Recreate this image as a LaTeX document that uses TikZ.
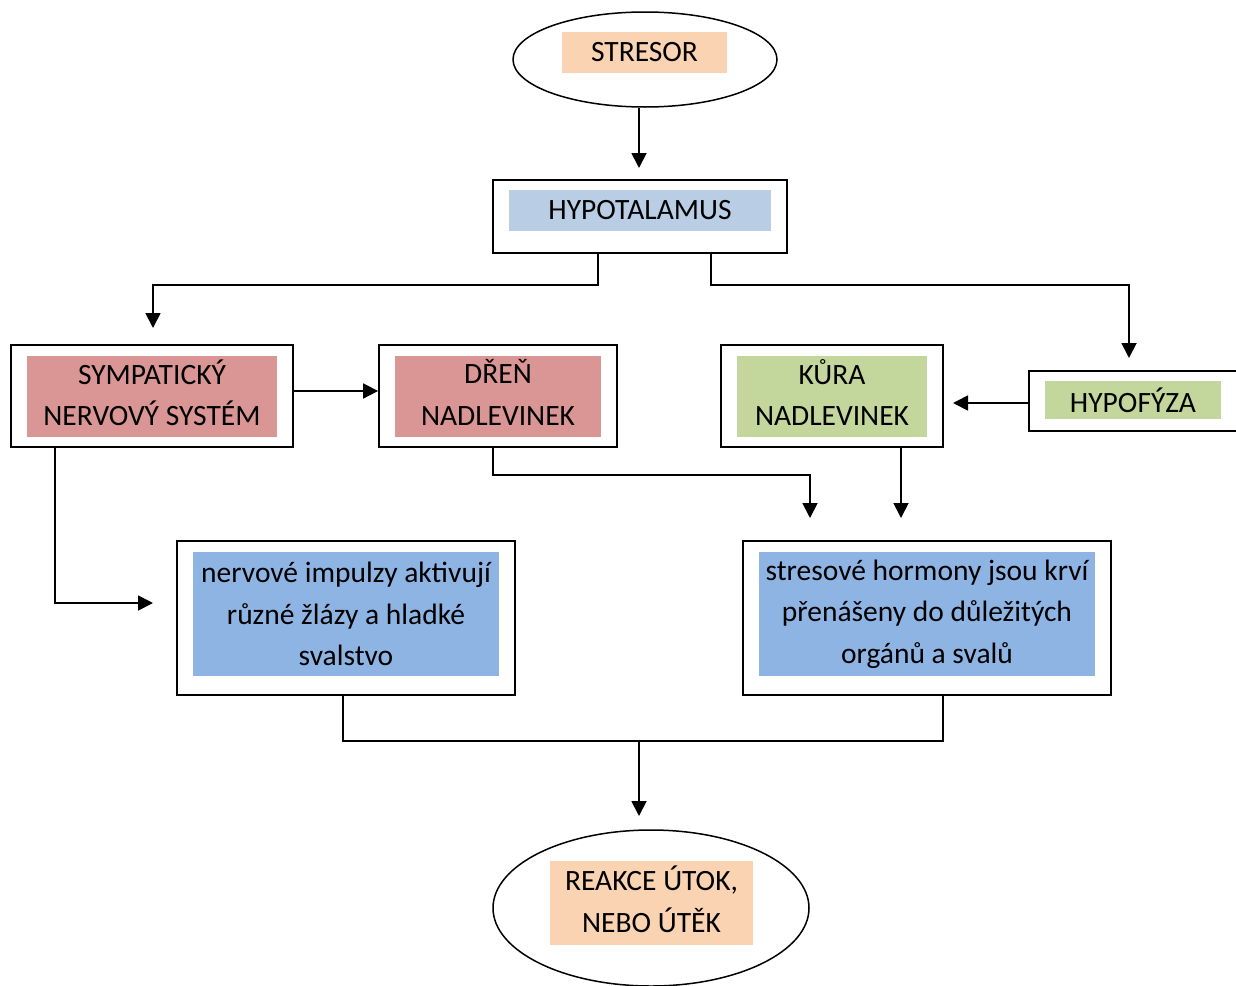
\documentclass[tikz,border=0pt]{standalone}
\usepackage{fontspec}
\setmainfont{Carlito}
\usetikzlibrary{arrows.meta,shapes.geometric}
\definecolor{peach}{HTML}{FAD3B3}
\definecolor{paleblue}{HTML}{B9CDE5}
\definecolor{rose}{HTML}{D99694}
\definecolor{olive}{HTML}{C3D69B}
\definecolor{midblue}{HTML}{8EB4E3}
\newcommand{\dn}{\rule[-8pt]{0pt}{0pt}}
\begin{document}
\begin{tikzpicture}[x=1pt,y=-1pt,
  outerbox/.style={draw,line width=1.8pt,inner sep=0pt},
  outerell/.style={draw,ellipse,line width=1.5pt,inner sep=0pt},
  fillbox/.style={inner sep=0pt,align=center,font=\fontsize{29.5}{41.5}\selectfont},
  conn/.style={line width=1.8pt,-{Triangle[width=15pt,length=15pt]}},
  plainline/.style={line width=1.8pt}]
\useasboundingbox (0,0) rectangle (1236,985);
% shapes
\node[outerell,minimum width=264pt,minimum height=95pt] (stresorE) at (645,59.5) {};
\node[fillbox,fill=peach,minimum width=165pt,minimum height=41pt] (stresor) at (644.5,52.5) {STRESOR};

\node[outerbox,minimum width=294pt,minimum height=73pt] (hyp) at (640,216.5) {};
\node[fillbox,fill=paleblue,minimum width=262pt,minimum height=41pt] (hyptxt) at (640,210.5) {HYPOTALAMUS};

\node[outerbox,minimum width=282pt,minimum height=102pt] (sym) at (152,396) {};
\node[fillbox,fill=rose,minimum width=250pt,minimum height=81pt] (symtxt) at (152,396.5) {SYMPATICKÝ\\NERVOVÝ SYSTÉM\dn};

\node[outerbox,minimum width=238pt,minimum height=102pt] (dren) at (498,396) {};
\node[fillbox,fill=rose,minimum width=206pt,minimum height=81pt] (drentxt) at (498,396.5) {DŘEŇ\\NADLEVINEK\dn};

\node[outerbox,minimum width=222pt,minimum height=102pt] (kura) at (832,396) {};
\node[fillbox,fill=olive,minimum width=190pt,minimum height=81pt] (kuratxt) at (832,396.5) {KŮRA\\NADLEVINEK\dn};

\node[outerbox,minimum width=230pt,minimum height=60pt] (hypo) at (1144,401) {};
\node[fillbox,fill=olive,minimum width=176pt,minimum height=38pt] (hypotxt) at (1133,400) {HYPOFÝZA};

\node[outerbox,minimum width=338pt,minimum height=154pt] (nerv) at (346,618) {};
\node[fillbox,fill=midblue,minimum width=306pt,minimum height=124pt] (nervtxt) at (346,614) {nervové impulzy aktivují\\různé žlázy a hladké\\svalstvo};

\node[outerbox,minimum width=368pt,minimum height=154pt] (stres) at (927,618) {};
\node[fillbox,fill=midblue,minimum width=336pt,minimum height=124pt] (strestxt) at (927,614) {stresové hormony jsou krví\\přenášeny do důležitých\\orgánů a svalů};

\node[outerell,minimum width=316pt,minimum height=156pt] (reakceE) at (651,908) {};
\node[fillbox,fill=peach,minimum width=203pt,minimum height=84pt] (reakce) at (651.5,903) {REAKCE ÚTOK,\\NEBO ÚTĚK\dn};

% coordinates
\coordinate (hypIn) at (639,168);
\coordinate (hL) at (598,285);
\coordinate (symIn) at (153,328);
\coordinate (hR) at (711,285);
\coordinate (hypoIn) at (1129,358);
\coordinate (row1) at (0,391);
\coordinate (kuraIn) at (953,403);
\coordinate (dB) at (493,475);
\coordinate (stIn1) at (810,518);
\coordinate (stIn2) at (901,518);
\coordinate (sB) at (55,603);
\coordinate (nvIn) at (153,603);
\coordinate (mL) at (343,741);
\coordinate (mR) at (943,741);
\coordinate (m) at (639,741);
\coordinate (reIn) at (639,816);

% connectors
\draw[conn] (stresorE.south -| hypIn) -- (hypIn);
\draw[conn] (hyp.south -| hL) -- (hL) -| (symIn);
\draw[conn] (hyp.south -| hR) -- (hR) -| (hypoIn);
\draw[conn] (sym.east |- row1) -- (dren.west |- row1);
\draw[conn] (hypo.west |- kuraIn) -- (kuraIn);
\draw[conn] (dren.south -| dB) -- (dB) -| (stIn1);
\draw[conn] (kura.south -| stIn2) -- (stIn2);
\draw[conn] (sym.south -| sB) -- (sB) -- (nvIn);
\draw[plainline] (nerv.south -| mL) -- (mL) -- (mR) -- (stres.south -| mR);
\draw[conn] (m) -- (reIn);
\end{tikzpicture}
\end{document}
